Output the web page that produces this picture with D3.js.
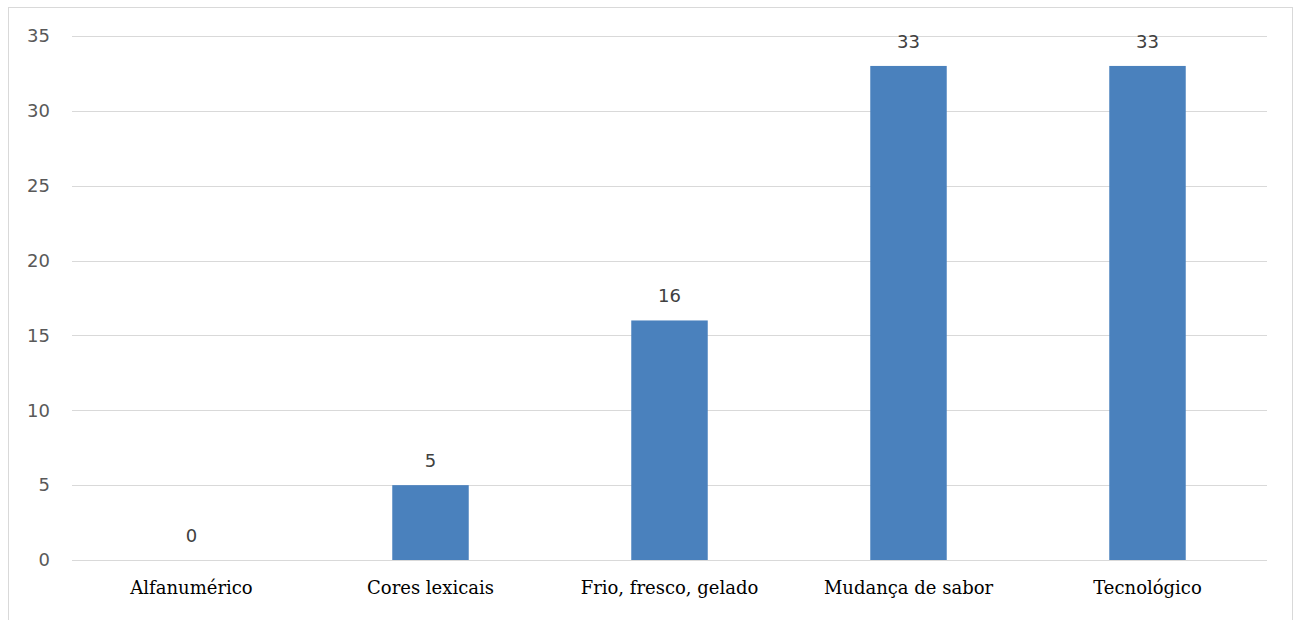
<!doctype html>
<html lang="pt">
  <head>
    <meta charset="utf-8">
    <title>Categorias</title>
    <script src="https://d3js.org/d3.v7.min.js"></script>
    <style>
      body { margin: 0; background: #fff; }
      .grid line { stroke: #d9d9d9; stroke-width: 1; }
      .ytick { font-family: "DejaVu Sans", sans-serif; font-size: 18px; fill: #595959; }
      .xtick { font-family: "DejaVu Serif", serif; font-size: 18px; fill: #000; }
      .label { font-family: "DejaVu Sans", sans-serif; font-size: 18px; fill: #404040; }
    </style>
  </head>
  <body>
    <script>

      var categories = ["Alfanumérico", "Cores lexicais", "Frio, fresco, gelado", "Mudança de sabor", "Tecnológico"];
      var values = [0, 5, 16, 33, 33];
      var yTicks = [0, 5, 10, 15, 20, 25, 30, 35];

      var width = 1297, height = 620;
      var margin = {top: 36, right: 30, bottom: 60, left: 72};

      var svg = d3.select("body").append("svg")
          .attr("width", width)
          .attr("height", height);

      // outer frame
      svg.append("rect")
          .attr("x", 8.5).attr("y", 7.5)
          .attr("width", 1284).attr("height", 630)
          .attr("fill", "none")
          .attr("stroke", "#d9d9d9");

      var x = d3.scaleBand()
          .domain(categories)
          .range([margin.left, width - margin.right])
          .paddingInner(0.68)
          .paddingOuter(0.34);

      var y = d3.scaleLinear()
          .domain([0, 35])
          .range([height - margin.bottom, margin.top]);

      var grid = svg.append("g").attr("class", "grid");
      grid.selectAll("line").data(yTicks).enter().append("line")
          .attr("x1", margin.left).attr("x2", width - margin.right)
          .attr("y1", function(d){ return Math.round(y(d)) + 0.5; })
          .attr("y2", function(d){ return Math.round(y(d)) + 0.5; });

      svg.append("g").selectAll("text").data(yTicks).enter().append("text")
          .attr("class", "ytick")
          .attr("x", 50)
          .attr("y", function(d){ return y(d); })
          .attr("dy", "0.35em")
          .attr("text-anchor", "end")
          .text(String);

      svg.append("g").selectAll("rect").data(values).enter().append("rect")
          .attr("x", function(d, i){ return x(categories[i]); })
          .attr("width", x.bandwidth())
          .attr("y", function(d){ return y(d); })
          .attr("height", function(d){ return y(0) - y(d); })
          .attr("fill", "#4a81bd");

      svg.append("g").selectAll("text").data(values).enter().append("text")
          .attr("class", "label")
          .attr("x", function(d, i){ return x(categories[i]) + x.bandwidth() / 2; })
          .attr("y", function(d){ return y(d) - 18; })
          .attr("text-anchor", "middle")
          .text(String);

      svg.append("g").selectAll("text").data(categories).enter().append("text")
          .attr("class", "xtick")
          .attr("x", function(d){ return x(d) + x.bandwidth() / 2; })
          .attr("y", y(0) + 34)
          .attr("text-anchor", "middle")
          .text(String);

    </script>
  </body>
</html>
